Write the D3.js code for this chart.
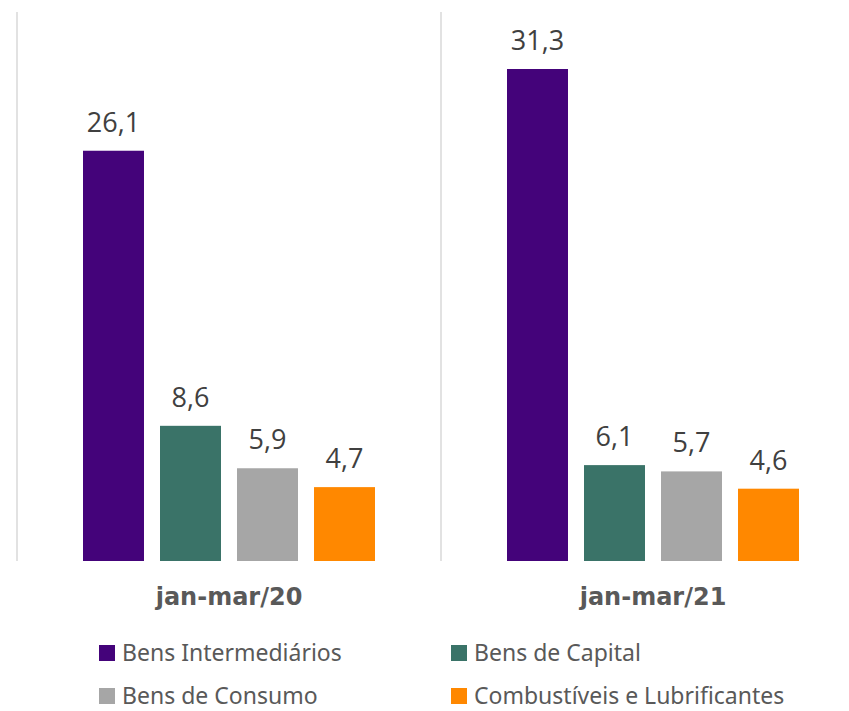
<!DOCTYPE html>
<html><head><meta charset="utf-8">
<script src="https://cdn.jsdelivr.net/npm/d3@7"></script>
<style>body{margin:0;background:#fff}</style>
</head><body>
<svg id="c" width="849" height="711"></svg>
<script>
const periods = ["jan-mar/20", "jan-mar/21"];
const series = ["Bens Intermediários", "Bens de Capital", "Bens de Consumo", "Combustíveis e Lubrificantes"];
const values2020 = [26.1, 8.6, 5.9, 4.7];
const values2021 = [31.3, 6.1, 5.7, 4.6];
const colors = ["#44037a", "#3a7368", "#a6a6a6", "#ff8800"];

const data = periods.map((p, i) => ({period: p, values: [values2020, values2021][i]}));
const svg = d3.select("#c");
const fmt = v => d3.format(".1f")(v).replace(".", ",");

const x0 = d3.scaleBand().domain(periods).range([17, 865]).paddingInner(0).paddingOuter(0);
const x1 = d3.scaleBand().domain(series).range([66, 358]).paddingInner(0.208).paddingOuter(0);
const y = d3.scaleLinear().domain([0, 31.3]).range([561, 69]);

// separators
svg.selectAll("line.sep").data([17, 441]).enter().append("line")
  .attr("x1", d => d).attr("x2", d => d).attr("y1", 12).attr("y2", 561)
  .attr("stroke", "#d9d9d9").attr("stroke-width", 1.5);

const g = svg.selectAll("g.grp").data(data).enter().append("g")
  .attr("transform", d => `translate(${x0(d.period)},0)`);

g.selectAll("rect").data(d => d.values.map((v, i) => ({s: series[i], v, i}))).enter().append("rect")
  .attr("x", d => x1(d.s)).attr("width", x1.bandwidth())
  .attr("y", d => y(d.v)).attr("height", d => y(0) - y(d.v))
  .attr("fill", d => colors[d.i]);

g.selectAll("text.val").data(d => d.values.map((v, i) => ({s: series[i], v, i}))).enter().append("text")
  .attr("x", d => x1(d.s) + x1.bandwidth() / 2).attr("y", d => y(d.v) - 19)
  .attr("text-anchor", "middle").attr("font-family", "'Open Sans', sans-serif")
  .attr("font-size", 27).attr("fill", "#404040").text(d => fmt(d.v));

g.append("text").attr("x", (66 + 358) / 2).attr("y", 605).attr("text-anchor", "middle")
  .attr("font-family", "'DejaVu Sans', sans-serif").attr("font-weight", "bold").attr("font-size", 24)
  .attr("fill", "#595959").text(d => d.period);

// legend
const legPos = [[99, 661], [451, 661], [99, 704], [451, 704]];
const lg = svg.selectAll("g.leg").data(series).enter().append("g")
  .attr("transform", (d, i) => `translate(${legPos[i][0]},${legPos[i][1]})`);
lg.append("rect").attr("x", 0).attr("y", -16).attr("width", 16).attr("height", 16).attr("fill", (d, i) => colors[i]);
lg.append("text").attr("x", 23).attr("y", 0).attr("font-family", "'Noto Sans', sans-serif")
  .attr("font-size", 23).attr("fill", "#595959").text(d => d);
</script>
</body></html>
